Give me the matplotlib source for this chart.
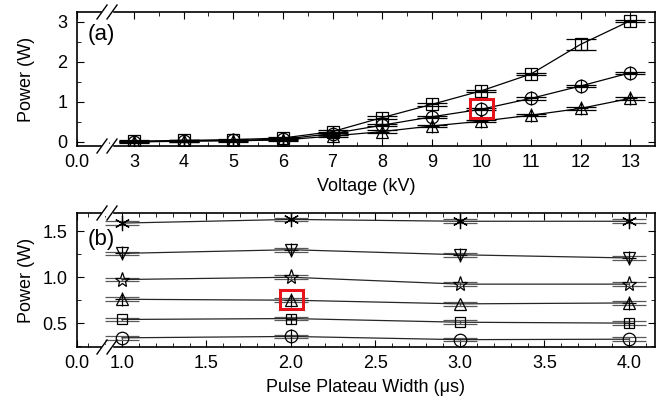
import numpy as np
import matplotlib.pyplot as plt
from matplotlib.lines import Line2D
from matplotlib.patches import Rectangle
from matplotlib.ticker import MultipleLocator

plt.rcParams['font.family'] = ['Liberation Sans', 'DejaVu Sans']
plt.rcParams['font.size'] = 13

# panel (a): power vs voltage
voltage = [3, 4, 5, 6, 7, 8, 9, 10, 11, 12, 13]
p_square = [0.02, 0.04, 0.06, 0.10, 0.26, 0.61, 0.94, 1.28, 1.70, 2.44, 3.03]
p_circle = [0.01, 0.03, 0.04, 0.07, 0.21, 0.42, 0.63, 0.82, 1.09, 1.40, 1.73]
p_triangle = [0.00, 0.02, 0.03, 0.05, 0.15, 0.26, 0.40, 0.52, 0.67, 0.84, 1.09]
e_square = [0.02, 0.02, 0.02, 0.02, 0.03, 0.03, 0.03, 0.03, 0.03, 0.13, 0.03]
e_circle = [0.02, 0.02, 0.02, 0.02, 0.03, 0.03, 0.03, 0.03, 0.03, 0.03, 0.03]
e_triangle = [0.02, 0.02, 0.02, 0.02, 0.03, 0.03, 0.03, 0.03, 0.03, 0.03, 0.03]

# panel (b): power vs pulse plateau width
width = [1.0, 2.0, 3.0, 4.0]
b_star6 = [1.59, 1.63, 1.61, 1.61]
b_tri_down = [1.26, 1.30, 1.245, 1.21]
b_star5 = [0.975, 1.00, 0.925, 0.925]
b_tri_up = [0.76, 0.75, 0.71, 0.72]
b_square = [0.54, 0.55, 0.51, 0.50]
b_circle = [0.34, 0.355, 0.32, 0.325]
b_err = [0.02, 0.02, 0.02, 0.02]

W, H = 664, 405
fig = plt.figure(figsize=(W / 100, H / 100), dpi=100)


def frac(px, py):
    return px / W, 1 - py / H


def make_axes(top_px, bot_px):
    x0, y1 = frac(77, top_px)
    x1, y0 = frac(655, bot_px)
    return fig.add_axes([x0, y0, x1 - x0, y1 - y0])


def style(ax):
    ax.tick_params(which='both', direction='in', top=True, right=True,
                   labelsize=13)
    ax.tick_params(axis='x', pad=6)
    ax.tick_params(axis='y', pad=7)
    ax.tick_params(which='major', length=5)
    ax.tick_params(which='minor', length=3)
    for s in ax.spines.values():
        s.set_linewidth(1.2)


def axis_break(ypix):
    # white gap in the spine and two slanted strokes
    xa, xb = 102, 112
    gx0, gy0 = frac(xa, ypix + 2)
    gx1, gy1 = frac(xb, ypix - 2)
    fig.patches.append(Rectangle((gx0, gy0), gx1 - gx0, gy1 - gy0,
                                 transform=fig.transFigure, color='white',
                                 zorder=10))
    for xc in (xa, xb):
        lx0, ly0 = frac(xc - 5, ypix + 7)
        lx1, ly1 = frac(xc + 5, ypix - 7)
        fig.lines.append(Line2D([lx0, lx1], [ly0, ly1], color='black', lw=1,
                                transform=fig.transFigure, zorder=11))


def cross(ax, x, y, keep, size):
    xs = [a for a, k in zip(x, keep) if k]
    ys = [b for b, k in zip(y, keep) if k]
    ax.plot(xs, ys, ls='none', marker='+', ms=size, mew=0.9, color='black')


# ---------------- (a)
ax1 = make_axes(12, 146)
style(ax1)
xmin_a = 1.85
kw = dict(color='black', lw=0.9, mfc='none', mec='black', mew=0.9, ms=9,
          capsize=11, capthick=1.2, elinewidth=0.9)
ax1.errorbar(voltage, p_square, yerr=e_square, marker='s', **kw)
ax1.errorbar(voltage, p_circle, yerr=e_circle, marker='o', **kw)
ax1.errorbar(voltage, p_triangle, yerr=e_triangle, marker='^', **kw)
all_a = [True] * len(voltage)
cross(ax1, voltage, p_square, [v != 12 for v in voltage], 9)
cross(ax1, voltage, p_circle, all_a, 10)
cross(ax1, voltage, p_triangle, all_a, 10)
ax1.set_xlim(xmin_a, 13.5)
ax1.set_ylim(-0.1, 3.25)
ax1.set_xticks([xmin_a] + voltage)
ax1.set_xticklabels(['0.0'] + [str(v) for v in voltage])
ax1.set_xticks(np.arange(2.5, 13.5, 0.5), minor=True)
ax1.set_yticks([0, 1, 2, 3])
ax1.yaxis.set_minor_locator(MultipleLocator(0.5))
ax1.set_xlabel('Voltage (kV)', fontsize=13, labelpad=5)
ax1.set_ylabel('Power (W)', fontsize=13)
ax1.yaxis.set_label_coords(-0.072, 0.5)
ax1.text(0.018, 0.79, '(a)', transform=ax1.transAxes, fontsize=16)
ax1.add_patch(Rectangle((9.77, 0.6), 0.46, 0.47, fill=False, ec='#e8141c',
                        lw=2.2, zorder=5))
axis_break(12)
axis_break(146)

# ---------------- (b)
ax2 = make_axes(213, 347)
style(ax2)
xmin_b = 0.734
kwb = dict(color='0.15', lw=0.9, mfc='none', mec='black', mew=0.9, ms=9,
           capsize=12, capthick=1.6, elinewidth=0.9, ecolor='0.35')
ax2.errorbar(width, b_star6, yerr=b_err, marker=(6, 2, 0), **dict(kwb, ms=11))
ax2.errorbar(width, b_tri_down, yerr=b_err, marker='v', **kwb)
ax2.errorbar(width, b_star5, yerr=b_err, marker='*', **dict(kwb, ms=11))
ax2.errorbar(width, b_tri_up, yerr=b_err, marker='^', **kwb)
ax2.errorbar(width, b_square, yerr=b_err, marker='s', **dict(kwb, ms=7))
ax2.errorbar(width, b_circle, yerr=b_err, marker='o', **kwb)
cross(ax2, width, b_tri_down, [True] * 4, 10)
cross(ax2, width, b_tri_up, [True, True, False, True], 10)
cross(ax2, width, b_square, [False, True, False, True], 7)
cross(ax2, width, b_circle, [False, True, False, False], 10)
ax2.set_xlim(xmin_b, 4.154)
ax2.set_ylim(0.24, 1.70)
ax2.set_xticks([xmin_b, 1.0, 1.5, 2.0, 2.5, 3.0, 3.5, 4.0])
ax2.set_xticklabels(['0.0', '1.0', '1.5', '2.0', '2.5', '3.0', '3.5', '4.0'])
ax2.set_xticks(np.arange(0.8, 4.15, 0.1), minor=True)
ax2.set_yticks([0.5, 1.0, 1.5])
ax2.set_yticklabels(['0.5', '1.0', '1.5'])
ax2.yaxis.set_minor_locator(MultipleLocator(0.25))
ax2.set_xlabel('Pulse Plateau Width (\u03bcs)', fontsize=13, labelpad=5)
ax2.set_ylabel('Power (W)', fontsize=13)
ax2.yaxis.set_label_coords(-0.072, 0.5)
ax2.text(0.018, 0.76, '(b)', transform=ax2.transAxes, fontsize=16)
ax2.add_patch(Rectangle((1.935, 0.655), 0.135, 0.205, fill=False,
                        ec='#e8141c', lw=2.2, zorder=5))
axis_break(213)
axis_break(347)

fig.savefig('out.png', dpi=100)
